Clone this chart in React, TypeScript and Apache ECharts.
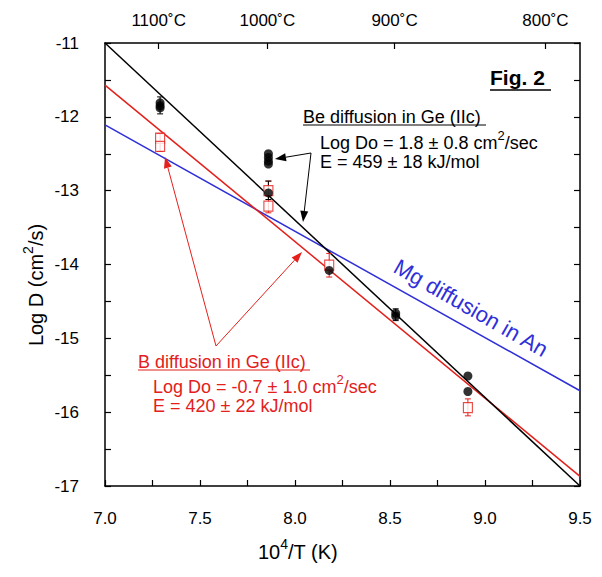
import React, { useEffect, useRef } from "react";
import * as echarts from "echarts";

// ---- data ----
const beData: [number, number][] = [
  [7.29, -11.81], [7.29, -11.85], [7.29, -11.88],
  [7.86, -12.5], [7.86, -12.55], [7.86, -12.6], [7.86, -12.64], [7.86, -13.03],
  [8.18, -14.08], [8.53, -14.66], [8.53, -14.7], [8.91, -15.51], [8.91, -15.72],
];
const bData: [number, number][] = [
  [7.29, -12.29], [7.29, -12.4], [7.86, -13.0], [7.86, -13.21], [8.18, -14.01], [8.91, -15.94],
];
const beErr: [number, number, number][] = [
  [7.29, -11.73, -11.96], [7.86, -12.87, -13.12], [8.53, -14.6, -14.76],
];
const bErr: [number, number, number][] = [
  [7.29, -12.23, -12.47], [7.86, -12.87, -13.3], [8.18, -13.85, -14.17], [8.91, -15.82, -16.05],
];
const beFit: [number, number][] = [[7.0, -11.0], [9.5, -17.0]];
const bFit: [number, number][] = [[7.0, -11.57], [9.5, -16.87]];
const mgFit: [number, number][] = [[7.0, -12.11], [9.5, -15.71]];
const tempsC = [1100, 1000, 900, 800];
const tempLabels = ["1100˚C", "1000˚C", "900˚C", "800˚C"];
const tempPos = tempsC.map((t) => 1e4 / (t + 273.15));

const FONT = "'Liberation Sans', Arial, Helvetica, sans-serif";
const RED = "#e3201b";
const BLUE = "#2f2fd8";

let measureCtx: CanvasRenderingContext2D | null = null;
function measure(text: string, size: number): number {
  if (!measureCtx) measureCtx = document.createElement("canvas").getContext("2d");
  if (!measureCtx) return text.length * size * 0.55;
  measureCtx.font = `${size}px ${FONT}`;
  return measureCtx.measureText(text).width;
}

// text with superscripts: parts = [text, isSup][]
function supText(
  x: number, y: number, parts: [string, boolean][], size: number, color: string,
  align: "left" | "center", rotation = 0
) {
  const supSize = Math.round(size * 0.72);
  const widths = parts.map(([t, s]) => measure(t, s ? supSize : size));
  const total = widths.reduce((a, b) => a + b, 0);
  let cx = align === "center" ? -total / 2 : 0;
  const children: any[] = parts.map(([t, s], i) => {
    const el = {
      type: "text",
      x: cx,
      y: s ? -size * 0.42 : 0,
      style: {
        text: t, fill: color, fontSize: s ? supSize : size, fontFamily: FONT,
        align: "left", verticalAlign: "middle", textAlign: "left", textVerticalAlign: "middle",
      },
    };
    cx += widths[i];
    return el;
  });
  return { type: "group", x, y, rotation, z: 10, children };
}

function arrow(x1: number, y1: number, x2: number, y2: number, color: string, lw: number) {
  const dx = x2 - x1, dy = y2 - y1;
  const len = Math.sqrt(dx * dx + dy * dy);
  const ux = dx / len, uy = dy / len;
  const hl = 11, hw = 4;
  const bx = x2 - ux * hl, by = y2 - uy * hl;
  return [
    { type: "line", z: 10, shape: { x1, y1, x2: bx, y2: by }, style: { stroke: color, lineWidth: lw } },
    {
      type: "polygon", z: 10,
      shape: { points: [[x2, y2], [bx - uy * hw, by + ux * hw], [bx + uy * hw, by - ux * hw]] },
      style: { fill: color },
    },
  ];
}

function errRender(color: string) {
  return (params: any, api: any) => {
    const x = api.value(0);
    const p1 = api.coord([x, api.value(1)]);
    const p2 = api.coord([x, api.value(2)]);
    const w = 3;
    const st = { stroke: color, lineWidth: 1 };
    return {
      type: "group",
      children: [
        { type: "line", shape: { x1: p1[0], y1: p1[1], x2: p2[0], y2: p2[1] }, style: st },
        { type: "line", shape: { x1: p1[0] - w, y1: p1[1], x2: p1[0] + w, y2: p1[1] }, style: st },
        { type: "line", shape: { x1: p2[0] - w, y1: p2[1], x2: p2[0] + w, y2: p2[1] }, style: st },
      ],
    };
  };
}

function txt(x: number, y: number, text: string, color: string, size: number, extra: any = {}) {
  return {
    type: "text", x, y, z: 10,
    style: {
      text, fill: color, fontSize: size, fontFamily: FONT,
      align: "left", verticalAlign: "middle", textAlign: "left", textVerticalAlign: "middle",
      ...extra,
    },
  };
}

export default function App() {
  const ref = useRef<HTMLDivElement>(null);
  useEffect(() => {
    if (!ref.current) return;
    const chart = echarts.init(ref.current, null, { renderer: "svg" });
    const axisLine = { show: true, lineStyle: { color: "#000", width: 1.5 } };
    const tick = { show: true, inside: true, length: 6, lineStyle: { color: "#000", width: 1.2 } };
    const labelStyle = { color: "#000", fontSize: 17, fontFamily: FONT };

    const graphic: any[] = [
      // Fig. 2
      txt(490, 77, "Fig. 2", "#000", 21, { fontWeight: "bold" }),
      { type: "line", z: 10, shape: { x1: 490, y1: 90, x2: 551, y2: 90 }, style: { stroke: "#000", lineWidth: 1.5 } },
      // Be annotation
      txt(303, 117, "Be diffusion in Ge (IIc)", "#000", 18),
      { type: "line", z: 10, shape: { x1: 303, y1: 125, x2: 486, y2: 125 }, style: { stroke: "#000", lineWidth: 1 } },
      supText(320, 143, [["Log Do = 1.8 ± 0.8 cm", false], ["2", true], ["/sec", false]], 18, "#000", "left"),
      txt(320, 162, "E = 459 ± 18 kJ/mol", "#000", 18),
      ...arrow(311, 153, 275, 159, "#000", 1),
      ...arrow(311, 153, 303, 222, "#000", 1),
      // B annotation
      txt(138, 362, "B diffusion in Ge (IIc)", RED, 18),
      { type: "line", z: 10, shape: { x1: 138, y1: 370, x2: 310, y2: 370 }, style: { stroke: RED, lineWidth: 1 } },
      supText(153, 387, [["Log Do = -0.7 ± 1.0 cm", false], ["2", true], ["/sec", false]], 18, RED, "left"),
      txt(153, 406, "E = 420 ± 22 kJ/mol", RED, 18),
      ...arrow(216, 346, 165, 157, RED, 1),
      ...arrow(216, 346, 302, 252, RED, 1),
      // Mg label
      {
        type: "text", x: 471, y: 308, z: 10, rotation: -0.52,
        style: {
          text: "Mg diffusion in An", fill: BLUE, fontSize: 22, fontFamily: FONT,
          align: "center", verticalAlign: "middle", textAlign: "center", textVerticalAlign: "middle",
        },
      },
      // axis titles
      supText(36, 285, [["Log D (cm", false], ["2", true], ["/s)", false]], 20, "#000", "center", Math.PI / 2),
      supText(298, 552, [["10", false], ["4", true], ["/T (K)", false]], 20, "#000", "center"),
    ];

    chart.setOption({
      animation: false,
      backgroundColor: "#fff",
      grid: { left: 105, right: 22, top: 43, bottom: 91, containLabel: false },
      xAxis: [
        {
          type: "value", min: 7, max: 9.5, interval: 0.25, position: "bottom",
          axisLine, axisTick: tick, splitLine: { show: false },
          axisLabel: {
            ...labelStyle, margin: 24,
            formatter: (v: number) => (Math.abs(v * 2 - Math.round(v * 2)) < 1e-6 ? v.toFixed(1) : ""),
          },
        },
        {
          type: "value", min: 7, max: 9.5, position: "top",
          axisLine, splitLine: { show: false },
          axisTick: { ...tick, customValues: tempPos },
          axisLabel: {
            ...labelStyle, margin: 14, customValues: tempPos,
            formatter: (v: number) => {
              let best = 0;
              tempPos.forEach((p, i) => { if (Math.abs(p - v) < Math.abs(tempPos[best] - v)) best = i; });
              return tempLabels[best];
            },
          },
        },
      ],
      yAxis: [
        {
          type: "value", min: -17, max: -11, interval: 0.5, position: "left",
          axisLine, axisTick: tick, splitLine: { show: false },
          axisLabel: {
            ...labelStyle, margin: 26,
            formatter: (v: number) => (Number.isInteger(v) ? String(v) : ""),
          },
        },
        {
          type: "value", min: -17, max: -11, interval: 0.5, position: "right",
          axisLine, axisTick: tick, splitLine: { show: false }, axisLabel: { show: false },
        },
      ],
      series: [
        { type: "line", data: mgFit, symbol: "none", lineStyle: { color: BLUE, width: 1.5 }, z: 2 },
        { type: "line", data: bFit, symbol: "none", lineStyle: { color: RED, width: 1.5 }, z: 2 },
        { type: "line", data: beFit, symbol: "none", lineStyle: { color: "#000", width: 1.5 }, z: 2 },
        { type: "custom", data: bErr, renderItem: errRender(RED), encode: { x: 0, y: [1, 2] }, z: 3 },
        { type: "custom", data: beErr, renderItem: errRender("#000"), encode: { x: 0, y: [1, 2] }, z: 3 },
        {
          type: "scatter", data: bData, symbol: "rect", symbolSize: [9, 10], z: 4,
          itemStyle: { color: "#fff", borderColor: RED, borderWidth: 1.2 },
        },
        { type: "scatter", data: beData, symbol: "circle", symbolSize: 9, z: 5, itemStyle: { color: "#000" } },
      ],
      graphic,
    });
    return () => chart.dispose();
  }, []);
  return (
    <div
      ref={ref}
      style={{ position: "fixed", left: 0, top: 0, width: 602, height: 577, background: "#fff" }}
    />
  );
}
